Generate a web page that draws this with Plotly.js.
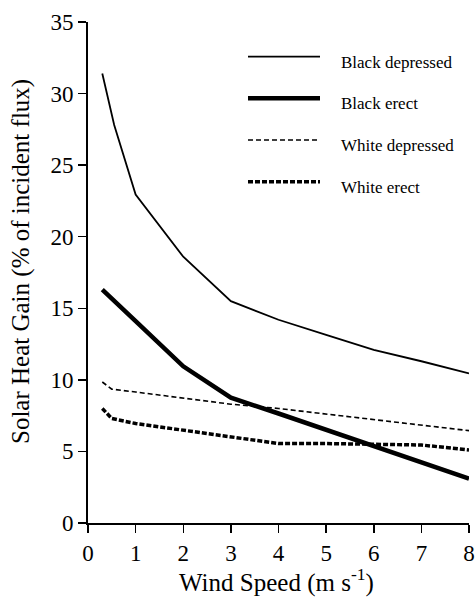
<!DOCTYPE html>
<html>
<head>
<meta charset="utf-8">
<script src="https://cdn.plot.ly/plotly-3.0.1.min.js"></script>
<style>html,body{margin:0;padding:0;background:#fff;}#chart{width:476px;height:598px;}</style>
</head>
<body>
<div id="chart"></div>
<script>
// Data
const windBlackDep = [0.3, 0.55, 1, 2, 3, 4, 5, 6, 7, 8];
const blackDepressed = [31.4, 27.8, 22.95, 18.6, 15.5, 14.2, 13.15, 12.1, 11.3, 10.45];
const windBlackErect = [0.3, 0.5, 1, 2, 3, 4, 5, 6, 7, 8];
const blackErect = [16.3, 15.7, 14.1, 10.95, 8.75, 7.65, 6.5, 5.35, 4.2, 3.1];
const windWhiteDep = [0.3, 0.5, 1, 2, 3, 4, 5, 6, 7, 8];
const whiteDepressed = [9.85, 9.35, 9.15, 8.75, 8.3, 8.0, 7.6, 7.25, 6.85, 6.45];
const windWhiteErect = [0.3, 0.5, 1, 2, 3, 4, 5, 6, 7, 8];
const whiteErect = [8.0, 7.3, 6.95, 6.5, 6.0, 5.55, 5.55, 5.5, 5.45, 5.1];
const seriesNames = ['Black depressed', 'Black erect', 'White depressed', 'White erect'];
const xTicks = [0, 1, 2, 3, 4, 5, 6, 7, 8];
const yTicks = [0, 5, 10, 15, 20, 25, 30, 35];
const xTitle = 'Wind Speed (m s<sup>-1</sup>)';
const yTitle = 'Solar Heat Gain (% of incident flux)';

const styles = [
  {color: '#000', width: 1.8, dash: 'solid'},
  {color: '#000', width: 4.5, dash: 'solid'},
  {color: '#000', width: 1.6, dash: '5px,3px'},
  {color: '#000', width: 3.5, dash: '5px,2px'}
];
const xs = [windBlackDep, windBlackErect, windWhiteDep, windWhiteErect];
const ys = [blackDepressed, blackErect, whiteDepressed, whiteErect];

const traces = seriesNames.map((n, i) => ({
  type: 'scatter', mode: 'lines', name: n,
  x: xs[i], y: ys[i], line: styles[i], showlegend: false, cliponaxis: false
}));

const font = 'Liberation Serif, Times New Roman, serif';
const L = 88, R = 7, T = 22, B = 75, W = 476, H = 598;
const pw = W - L - R, ph = H - T - B;
const px = p => (p - L) / pw;          // pixel x -> paper
const py = p => (H - B - p) / ph;      // pixel y -> paper

// legend drawn as shapes + annotations (long sample lines like the original)
const legPix = [56.7, 98.3, 140, 181.7];
const shapes = seriesNames.map((n, i) => ({
  type: 'line', xref: 'paper', yref: 'paper',
  x0: px(248), x1: px(320), y0: py(legPix[i]), y1: py(legPix[i]),
  line: styles[i]
}));
const annotations = seriesNames.map((n, i) => ({
  xref: 'paper', yref: 'paper', x: px(339), y: py(legPix[i] + 5.5),
  xanchor: 'left', yanchor: 'middle', showarrow: false, text: n,
  font: {family: font, size: 17, color: '#000'}
}));
annotations.push({
  xref: 'paper', yref: 'paper', x: px(21), y: py(262),
  xanchor: 'center', yanchor: 'middle', showarrow: false, textangle: -90,
  text: yTitle, font: {family: font, size: 25, color: '#000'}
});
annotations.push({
  xref: 'paper', yref: 'paper', x: px(276), y: py(580),
  xanchor: 'center', yanchor: 'middle', showarrow: false,
  text: xTitle, font: {family: font, size: 25, color: '#000'}
});

const layout = {
  width: W, height: H,
  margin: {l: L, r: R, t: T, b: B},
  paper_bgcolor: '#fff', plot_bgcolor: '#fff',
  showlegend: false,
  font: {family: font, color: '#000'},
  xaxis: {
    range: [0, 8], tickvals: xTicks, ticktext: xTicks.map(String),
    showgrid: false, zeroline: false, showline: true, linewidth: 2, linecolor: '#000',
    ticks: 'outside', ticklen: 8, tickwidth: 1.5, tickcolor: '#000',
    tickfont: {family: font, size: 23}, ticklabeloverflow: 'allow',
    automargin: false
  },
  yaxis: {
    range: [0, 35], tickvals: yTicks, ticktext: yTicks.map(String),
    showgrid: false, zeroline: false, showline: true, linewidth: 2, linecolor: '#000',
    ticks: 'outside', ticklen: 8, tickwidth: 1.5, tickcolor: '#000',
    tickfont: {family: font, size: 23}, ticklabeloverflow: 'allow',
    automargin: false
  },
  shapes: shapes,
  annotations: annotations
};

Plotly.newPlot('chart', traces, layout, {displayModeBar: false, staticPlot: true});
</script>
</body>
</html>
